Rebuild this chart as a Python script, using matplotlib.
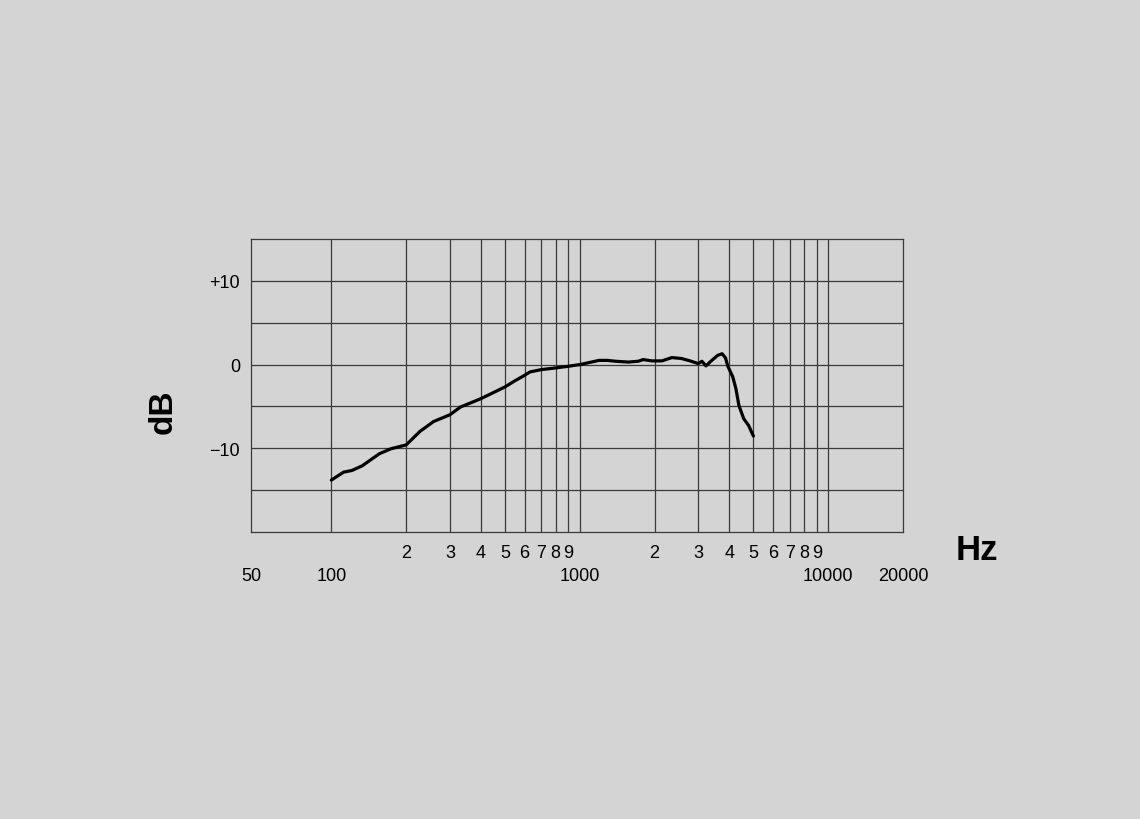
import numpy as np
import matplotlib
matplotlib.use("Agg")
import matplotlib.pyplot as plt

# frequency response (Hz, dB)
freq = [100, 112, 121, 133, 156, 174, 200, 227, 258, 300, 331, 400, 500, 547,
        600, 630, 700, 800, 900, 1000, 1090, 1195, 1290, 1390, 1570, 1720,
        1800, 1950, 2140, 2350, 2570, 2780, 3000, 3100, 3220, 3370, 3590,
        3740, 3860, 3940, 4130, 4250, 4370, 4570, 4780, 5000]
db = [-13.8, -12.85, -12.65, -12.1, -10.65, -10.05, -9.6, -8.0, -6.8, -6.0,
      -5.07, -4.07, -2.67, -1.95, -1.28, -0.88, -0.6, -0.4, -0.2, 0.0, 0.24,
      0.5, 0.5, 0.4, 0.3, 0.4, 0.6, 0.44, 0.44, 0.84, 0.72, 0.44, 0.12, 0.4,
      -0.16, 0.4, 1.1, 1.3, 0.8, -0.16, -1.48, -2.87, -4.87, -6.47, -7.27,
      -8.54]

grid_freqs = [100, 200, 300, 400, 500, 600, 700, 800, 900,
              1000, 2000, 3000, 4000, 5000, 6000, 7000, 8000, 9000, 10000]
grid_db = [10, 5, 0, -5, -10, -15]

major_ticks = [47.5, 100, 1000, 10000, 20000]
major_labels = ["50", "100", "1000", "10000", "20000"]
minor_ticks = [200, 300, 400, 500, 600, 700, 800, 900,
               2000, 3000, 4000, 5000, 6000, 7000, 8000, 9000]
minor_labels = ["2", "3", "4", "5", "6", "7", "8", "9"] * 2

y_ticks = [10, 0, -10]
y_labels = ["+10", "0", "\u221210"]

bg = "#d4d4d4"
gc = "#3a3a3a"
plt.rcParams['font.family'] = ['Liberation Sans', 'DejaVu Sans']

fig = plt.figure(figsize=(11.4, 8.2), dpi=100, facecolor=bg)
ax = fig.add_axes([0.2202, 0.35, 0.5719, 0.3573])
ax.set_facecolor(bg)
ax.set_xscale('log')
ax.set_xlim(47.5, 20000)
ax.set_ylim(-20, 15)

for f in grid_freqs:
    ax.axvline(f, color=gc, lw=0.9, zorder=1)
for d in grid_db:
    ax.axhline(d, color=gc, lw=0.9, zorder=1)

ax.plot(freq, db, color='black', lw=2.3, solid_capstyle='round', zorder=3)

ax.xaxis.set_major_locator(matplotlib.ticker.FixedLocator(major_ticks))
ax.xaxis.set_major_formatter(matplotlib.ticker.FixedFormatter(major_labels))
ax.xaxis.set_minor_locator(matplotlib.ticker.FixedLocator(minor_ticks))
ax.xaxis.set_minor_formatter(matplotlib.ticker.FixedFormatter(minor_labels))
ax.tick_params(axis='x', which='major', length=0, pad=25, labelsize=13)
ax.tick_params(axis='x', which='minor', length=0, pad=8.5, labelsize=13)

ax.set_yticks(y_ticks)
ax.set_yticklabels(y_labels)
ax.tick_params(axis='y', length=0, pad=8, labelsize=13)

for s in ax.spines.values():
    s.set_color(gc)
    s.set_linewidth(0.9)

fig.text(163 / 1140, 1 - 412 / 820, "dB", rotation=90, fontsize=24,
         fontweight='bold', ha='center', va='center')
fig.text(977 / 1140, 1 - 550 / 820, "Hz", fontsize=25,
         fontweight='bold', ha='center', va='center')

fig.savefig("out.png", dpi=100, facecolor=bg)
